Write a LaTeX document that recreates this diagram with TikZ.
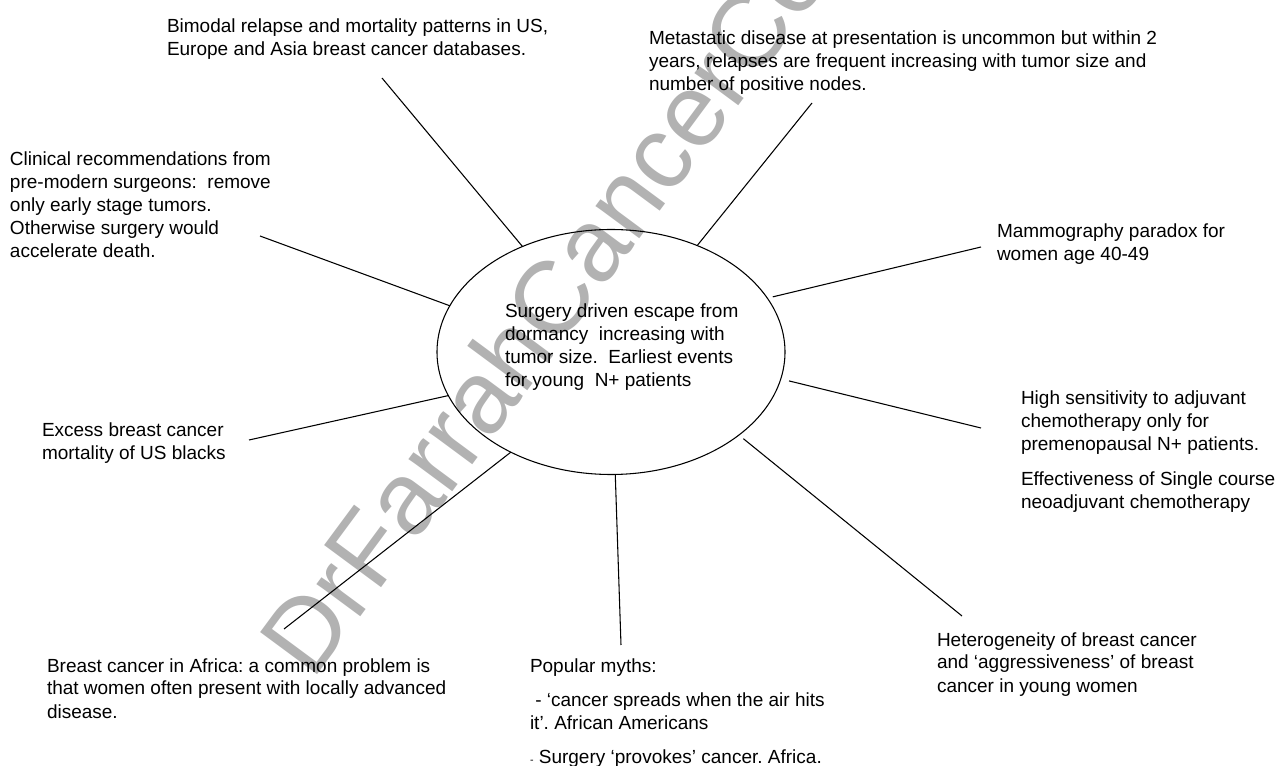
\documentclass[tikz,border=0pt]{standalone}
\usepackage{fontspec}
\setmainfont{Liberation Sans}
\usetikzlibrary{shapes.geometric}
\definecolor{wmgray}{gray}{0.70}
\newcommand{\fl}{\rule{0pt}{11.25pt}}
\frenchspacing
\begin{document}
\begin{tikzpicture}[x=0.75pt,y=-0.75pt,
  lbl/.style={anchor=north west, inner sep=0pt, outer sep=0pt, align=left,
              font=\fontsize{14.25}{17.25}\selectfont},
  conn/.style={line width=0.8pt, draw=black},
  hub/.style={draw=black, line width=0.8pt, ellipse, minimum width=261pt,
              minimum height=183.75pt, inner sep=0pt, outer sep=0pt},
  watermark/.style={anchor=base west, rotate=53.5, inner sep=0pt, text=wmgray,
              font=\fontsize{77.25}{77.25}\selectfont}
]
\useasboundingbox (0,0) rectangle (1283,766);
\begin{scope}
  \clip (0,0) rectangle (1283,766);
  \node[watermark] (wm) at (312,682) {DrFarrahCancerCenter};
\end{scope}

% hub
\node[hub] (ell) at (611,352) {};
\node[lbl] (center) at (505,303) {\fl Surgery driven escape from\\dormancy\ \ increasing with\\tumor size.\ \ Earliest events\\for young\ \ N+ patients};

% text blocks
\node[lbl] (bimodal) at (167,18) {\fl Bimodal relapse and mortality patterns in US,\\Europe and Asia breast cancer databases.};
\node[lbl] (metast) at (649,30) {\fl Metastatic disease at presentation is uncommon but within 2\\years, relapses are frequent increasing with tumor size and\\number of positive nodes.};
\node[lbl] (clinical) at (10,151) {\fl Clinical recommendations from\\pre-modern surgeons:\ \ remove\\only early stage tumors.\\Otherwise surgery would\\accelerate death.};
\node[lbl] (mammo) at (997,223) {\fl Mammography paradox for\\women age 40-49};
\node[lbl] (highsens) at (1021,390) {\fl High sensitivity to adjuvant\\chemotherapy only for\\premenopausal N+ patients.\\[9pt]Effectiveness of Single course\\neoadjuvant chemotherapy};
\node[lbl] (excess) at (42,422) {\fl Excess breast cancer\\mortality of US blacks};
\node[lbl] (africa) at (47,657) {\fl Breast cancer in Africa: a common problem is\\that women often present with locally advanced\\disease.};
\node[lbl] (myths) at (530,657) {\fl Popular myths:\\[8.5pt]\ - ‘cancer spreads when the air hits\\it’. African Americans\\[8.5pt]{\fontsize{8}{8}\selectfont -} Surgery ‘provokes’ cancer. Africa.};
\node[lbl] (hetero) at (937,631) {\fl Heterogeneity of breast cancer\\and ‘aggressiveness’ of breast\\cancer in young women};

% free ends of the spokes
\coordinate (bE) at (382,78);
\coordinate (mE) at (812,103);
\coordinate (cE) at (260,236);
\coordinate (mamE) at (981,247);
\coordinate (hE) at (981,428);
\coordinate (hetE) at (962,616);
\coordinate (popE) at (621,645);
\coordinate (afE) at (284,629);
\coordinate (exE) at (249,440);

\draw[conn] (ell.130) -- (bE);
\draw[conn] (ell.51.9) -- (mE);
\draw[conn] (ell.164.1) -- (cE);
\draw[conn, shorten <=4.2pt] (ell.19.9) -- (mamE);
\draw[conn, shorten <=6.4pt] (ell.351.06) -- (hE);
\draw[conn, shorten <=4.3pt] (ell.327.6) -- (hetE);
\draw[conn] (ell.272.8) -- (popE);
\draw[conn] (ell.225.3) -- (afE);
\draw[conn] (ell.195.5) -- (exE);
\end{tikzpicture}
\end{document}
